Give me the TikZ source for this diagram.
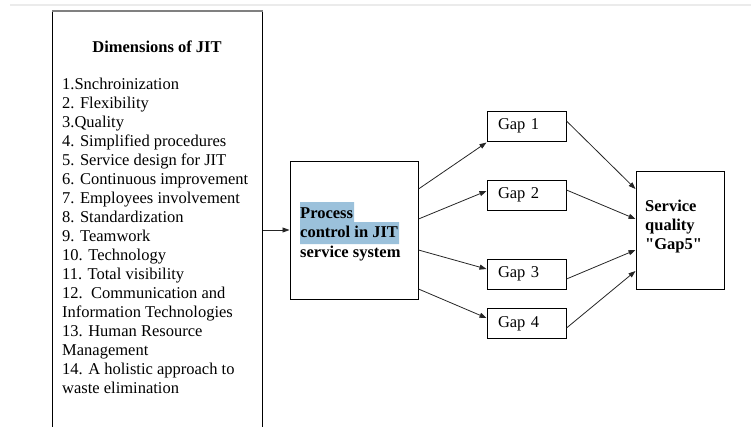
\documentclass[tikz,border=0pt]{standalone}
\usepackage{fontspec}
\setmainfont{Liberation Serif}
\usetikzlibrary{arrows.meta}
\definecolor{selblue}{RGB}{155,193,219}
% straight double quote, past the TeX ligature mapping
\newcommand{\strq}{\XeTeXglyph\XeTeXcharglyph"0022\relax}

\begin{document}
\begin{tikzpicture}[x=1pt, y=-1pt,
        every node/.style={font=\fontsize{16.5}{19}\selectfont},
        box/.style={rectangle, draw=black, line width=1pt},
        gapbox/.style={box, minimum width=79pt, minimum height=30pt, text width=57pt,
                       inner xsep=11pt, align=left},
        txt/.style={inner sep=0pt, align=left, anchor=north west},
        arr/.style={-{Triangle[length=7pt,width=5pt]}, line width=0.8pt, draw=black!85}
    ]
        \path[use as bounding box, clip] (0,0) rectangle (751,426);
        \draw[black!8, line width=2.5pt] (10,5) -- (751,5);

        % left column: the JIT dimensions
        \node[box, anchor=north west, minimum width=210pt, minimum height=440pt] (dims) at (52,11) {};
        \draw[black!50, line width=2pt] (dims.north west) -- (dims.north east);
        \node[anchor=base, font=\fontsize{16.5}{19}\selectfont\bfseries] (dimhead) at (157,52) {Dimensions of JIT};
        \node[txt] (dimlist) at (62,78) {1.Snchroinization\\2. Flexibility\\3.Quality\\4. Simplified procedures\\
            5. Service design for JIT\\6. Continuous improvement\\7. Employees involvement\\8. Standardization\\
            9. Teamwork\\10. Technology\\11. Total visibility\\12.\ \ Communication and\\Information Technologies\\
            13. Human Resource\\Management\\14. A holistic approach to\\waste elimination};

        % process box
        \node[box, minimum width=128pt, minimum height=138pt] (proc) at (354,230) {};
        \fill[selblue] (300,202) rectangle (354,222) (300,222) rectangle (399,244);
        \node[txt, font=\fontsize{16.5}{19.5}\selectfont\bfseries] (proctext) at (300,207) {Process\\control in JIT\\service system};

        % gaps
        \node[gapbox] (gap1) at (526.5,126)   {Gap 1};
        \node[gapbox] (gap2) at (526.5,195)   {Gap 2};
        \node[gapbox] (gap3) at (526.5,274)   {Gap 3};
        \node[gapbox] (gap4) at (526.5,323.5) {Gap 4};

        % service quality
        \node[box, minimum width=88pt, minimum height=118pt] (sq) at (680,230) {};
        \node[txt, font=\fontsize{16.5}{19}\selectfont\bfseries] (sqtext) at (645,200) {Service\\quality\\\strq Gap5\strq};

        \draw[arr] (dims.east |- proc.west) -- (proc.west);

        \draw[arr] ([yshift=41pt]proc.east)  -- ([yshift=-1pt]gap1.south west);
        \draw[arr] ([yshift=11pt]proc.east)  -- ([yshift=4pt]gap2.west);
        \draw[arr] ([yshift=-20pt]proc.east) -- ([yshift=5pt]gap3.west);
        \draw[arr] ([yshift=-59pt]proc.east) -- ([yshift=5.5pt]gap4.west);

        \draw[arr] ([yshift=5pt]gap1.east)    -- ([yshift=41pt]sq.west);
        \draw[arr] ([yshift=5pt]gap2.east)    -- ([yshift=11pt]sq.west);
        \draw[arr] ([yshift=-5pt]gap3.east)   -- ([yshift=-20pt]sq.west);
        \draw[arr] ([yshift=-4.5pt]gap4.east) -- ([yshift=-41pt]sq.west);
\end{tikzpicture}
\end{document}
